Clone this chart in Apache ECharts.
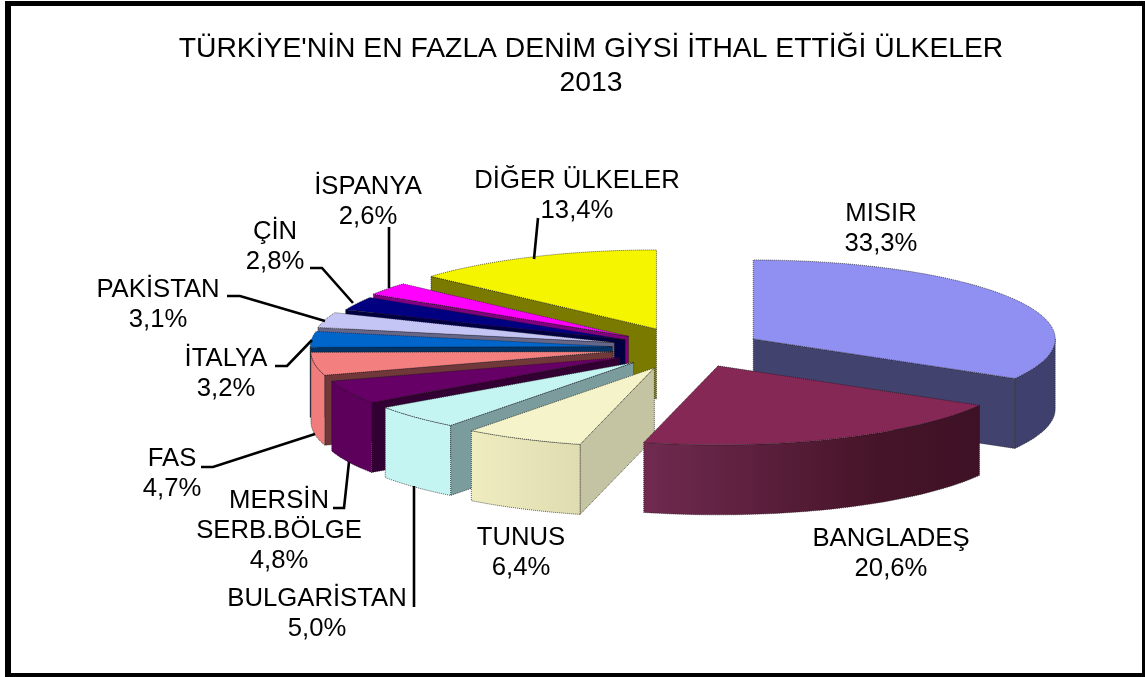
<!DOCTYPE html>
<html><head><meta charset="utf-8">
<style>html,body{margin:0;padding:0;background:#fff}#c{width:1145px;height:677px}</style>
<script src="https://cdn.jsdelivr.net/npm/echarts@6/dist/echarts.min.js"></script>
</head><body><div id="c"></div>
<script>
const titleLines = ["TÜRKİYE'NİN EN FAZLA DENİM GİYSİ İTHAL ETTİĞİ ÜLKELER", "2013"];
const categories = ["MISIR","BANGLADEŞ","TUNUS","BULGARİSTAN","MERSİN\nSERB.BÖLGE","FAS","İTALYA","PAKİSTAN","ÇİN","İSPANYA","DİĞER ÜLKELER"];
const values = [33.3,20.6,6.4,5.0,4.8,4.7,3.2,3.1,2.8,2.6,13.4];

// styling & layout, separate from the data
const topColors  = ["#9090f2","#862855","#f5f3c9","#c5f5f3","#660066","#f47f7f","#0066cc","#c5c5f5","#000080","#ff00ff","#f5f500"];
const wallColors = ["#42426e","#4a1530","#c4c4a2","#7a9c9c","#330033","#703838","#003366","#666688","#000040","#800080","#7a7a00"];
const rimColors  = [
  "#40406e",
  {type:'linear',x:0,y:0,x2:1,y2:0,colorStops:[{offset:0,color:'#702a50'},{offset:.7,color:'#461428'},{offset:1,color:'#3e1126'}]},
  {type:'linear',x:0,y:0,x2:1,y2:0,colorStops:[{offset:0,color:'#efedc0'},{offset:1,color:'#dedcb0'}]},
  "#c5f5f3","#5c005c","#f07c7c","#0055aa","#aaaadd","#000060","#cc00cc","#c5c500"];
const explodePx = [73,72,82,78,78,78,78,79,73,77,82];
const paintOrder = [10,0,9,8,7,6,5,4,3,2,1];
const labelPos = [[881,229],[891,553.5],[521,552.5],[317,614],[279,531],[172,474],[226,374],[158,305],[275,247],[368,202],[577,195.5]];
const leaders = [
  null, null, null,
  [[414,486],[414,607]],
  [[349,462],[344,508],[333,508]],
  [[315,434],[213,467],[201,467]],
  [[312,340],[287,366],[275,366]],
  [[325,321],[240,296],[227,296]],
  [[353,303],[322,268],[310,268]],
  [[389,288],[389,227]],
  [[534,259],[538,218]]
];
const CX=690, CY=348.5, RX=302, RY=79, DEPTH=70, TILT=RY/RX;
const FONT='"Liberation Sans", Arial, sans-serif';
const total = values.reduce((a,b)=>a+b,0);
const rad = d=>d*Math.PI/180;

function sliceAngles(i){
  let s=0; for(let k=0;k<i;k++) s+=values[k];
  return [s/total*360,(s+values[i])/total*360];
}
function renderItem(params, api){
  const i = params.dataIndex, v = api.value(0);
  const [a0,a1] = sliceAngles(i);
  const mid = rad((a0+a1)/2), e = explodePx[i];
  const ax = CX+e*Math.sin(mid), ay = CY-e*TILT*Math.cos(mid);
  const pt = (d,dz)=>[ax+RX*Math.sin(rad(d)), ay-RY*Math.cos(rad(d))+(dz||0)];
  const arc = (from,to,dz)=>{const n=Math.max(2,Math.ceil(Math.abs(to-from)/1.5)),o=[];
    for(let k=0;k<=n;k++)o.push(pt(from+(to-from)*k/n,dz));return o;};
  const base = paintOrder.indexOf(i)*4+1;
  const edge = {stroke:'rgba(20,20,20,.65)',lineWidth:1,lineDash:[1,1]};
  const kids = [];
  const poly=(points,fill,z)=>kids.push({type:'polygon',z2:base+z,silent:true,shape:{points},style:Object.assign({fill},edge)});
  const wall=(d,z)=>poly([[ax,ay],pt(d),pt(d,DEPTH),[ax,ay+DEPTH]],wallColors[i],z);
  if(Math.sin(rad(a1))>0.001) wall(a1,0);
  if(Math.sin(rad(a0))<-0.001) wall(a0,0);
  const r0=Math.max(a0,90), r1=Math.min(a1,270);
  if(r1>r0) poly(arc(r0,r1,0).concat(arc(r1,r0,DEPTH)),rimColors[i],1);
  poly([[ax,ay]].concat(arc(a0,a1,0)),topColors[i],2);
  if(leaders[i]) kids.push({type:'polyline',z2:200,silent:true,shape:{points:leaders[i]},style:{fill:null,stroke:'#000',lineWidth:2.6}});
  const pct = v.toFixed(1).replace('.',',')+'%';
  kids.push({type:'text',z2:210,silent:true,style:{text:categories[i]+'\n'+pct,x:labelPos[i][0],y:labelPos[i][1],
    align:'center',verticalAlign:'middle',fontFamily:FONT,fontSize:25.7,lineHeight:30,fill:'#000'}});
  return {type:'group',children:kids};
}
const chart = echarts.init(document.getElementById('c'),null,{renderer:'canvas'});
chart.setOption({
  animation:false,
  backgroundColor:'#fff',
  title:{text:titleLines.join('\n'),left:586,top:27,textAlign:'center',
    textStyle:{fontFamily:FONT,fontSize:28.3,fontWeight:'normal',color:'#000',lineHeight:34}},
  graphic:[
    {type:'rect',silent:true,z:-2,shape:{x:5,y:1,width:1140,height:676},style:{fill:'#000'}},
    {type:'rect',silent:true,z:-1,shape:{x:11,y:6,width:1131,height:667},style:{fill:'#fff'}}
  ],
  series:[{type:'custom',coordinateSystem:'none',silent:true,clip:false,renderItem,
    data:values.map((v,i)=>({name:categories[i],value:[v]}))}]
});
</script></body></html>
